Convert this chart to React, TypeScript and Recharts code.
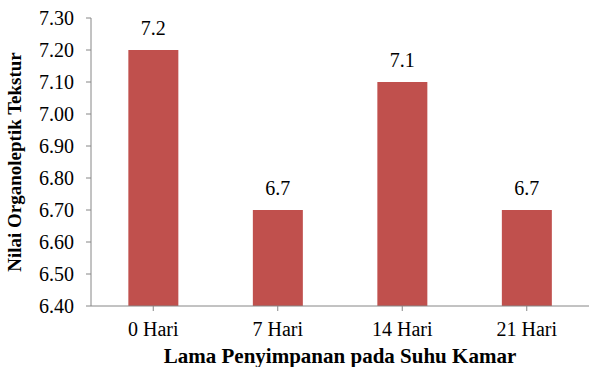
import React from 'react';
import { BarChart, Bar, XAxis, YAxis, LabelList } from 'recharts';

// Storage duration at room temperature and mean texture score
const categories = ['0 Hari', '7 Hari', '14 Hari', '21 Hari'];
const textureScores = [7.2, 6.7, 7.1, 6.7];
const yTicks = [6.4, 6.5, 6.6, 6.7, 6.8, 6.9, 7.0, 7.1, 7.2, 7.3];

const data = categories.map((name, i) => ({ name, value: textureScores[i] }));

const FONT = '"Liberation Serif", "Times New Roman", serif';
const AXIS = '#868686';

const App: React.FC = () => {
  return (
    <div style={{ position: 'absolute', left: 0, top: 0, fontFamily: FONT }}>
      <style>{`.recharts-wrapper text { font-family: ${FONT}; }`}</style>
      <BarChart
        width={589}
        height={367}
        data={data}
        margin={{ top: 18, right: 0, bottom: 31, left: 31 }}
        barCategoryGap="30%"
      >
        <XAxis
          dataKey="name"
          stroke={AXIS}
          tickLine={{ stroke: AXIS }}
          tickSize={5}
          tickMargin={11}
          height={30}
          interval={0}
          tick={{ fill: '#000', fontSize: 20 }}
          label={{
            value: 'Lama Penyimpanan pada Suhu Kamar',
            position: 'insideBottom',
            offset: -27,
            fill: '#000',
            fontSize: 21,
            fontWeight: 'bold',
          }}
        />
        <YAxis
          domain={[6.4, 7.3]}
          ticks={yTicks}
          interval={0}
          width={60}
          stroke={AXIS}
          tickSize={5}
          tickMargin={12}
          tickFormatter={(v: number) => v.toFixed(2)}
          tick={{ fill: '#000', fontSize: 20 }}
          label={{
            value: 'Nilai Organoleptik Tekstur',
            angle: -90,
            position: 'insideLeft',
            offset: -17,
            style: { textAnchor: 'middle' },
            fill: '#000',
            fontSize: 19,
            fontWeight: 'bold',
          }}
        />
        <Bar dataKey="value" fill="#C0504D" isAnimationActive={false}>
          <LabelList
            dataKey="value"
            position="top"
            offset={15}
            fill="#000"
            fontSize={20}
          />
        </Bar>
      </BarChart>
    </div>
  );
};

export default App;
